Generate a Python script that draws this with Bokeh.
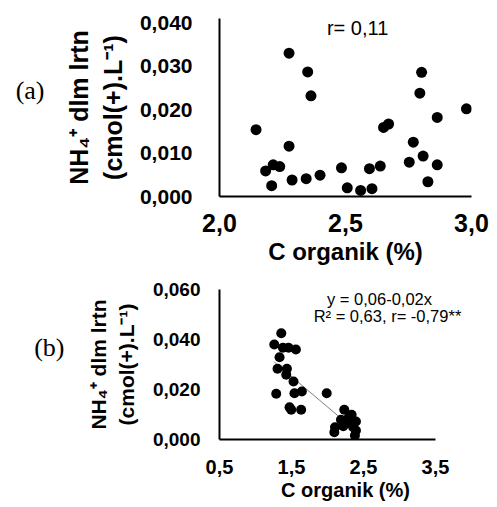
from bokeh.plotting import figure
from bokeh.models import Range1d, FixedTicker, CustomJSTickFormatter, Label, LinearAxis, Title
from bokeh.layouts import column
from bokeh.embed import file_html
from bokeh.resources import INLINE
import numpy as np

# ---- data panel (a) ----
a_x = [2.145, 2.276, 2.350, 2.363, 2.276, 2.183, 2.213, 2.239, 2.207, 2.288,
       2.344, 2.399, 2.484, 2.507, 2.560, 2.605, 2.595, 2.638, 2.651, 2.671,
       2.753, 2.769, 2.808, 2.795, 2.802, 2.864, 2.864, 2.827, 2.980]
a_y = [0.0154, 0.0330, 0.0287, 0.0232, 0.0116, 0.0059, 0.0073, 0.0069, 0.0025, 0.0038,
       0.0041, 0.0049, 0.0066, 0.0020, 0.0014, 0.0018, 0.0064, 0.0070, 0.0159, 0.0167,
       0.0079, 0.0125, 0.0093, 0.0238, 0.0286, 0.0182, 0.0073, 0.0034, 0.0202]
a_xticks = [2.0, 2.5, 3.0]
a_yticks = [0.0, 0.01, 0.02, 0.03, 0.04]

# ---- data panel (b) ----
b_x = [1.358, 1.261, 1.381, 1.459, 1.561, 1.334, 1.306, 1.436, 1.427, 1.528,
       1.288, 1.541, 1.644, 1.473, 1.496, 1.634, 1.989, 2.233, 2.335, 2.187,
       2.288, 2.395, 2.104, 2.219, 2.095, 2.357, 2.395, 2.381, 2.266]
b_y = [0.0425, 0.0380, 0.0367, 0.0367, 0.0360, 0.0329, 0.0283, 0.0283, 0.0259, 0.0232,
       0.0183, 0.0185, 0.0192, 0.0129, 0.0119, 0.0119, 0.0185, 0.0119, 0.0099, 0.0079,
       0.0085, 0.0072, 0.0049, 0.0053, 0.0029, 0.0049, 0.0036, 0.0016, 0.0065]
b_xticks = [0.5, 1.5, 2.5, 3.5]
b_yticks = [0.0, 0.02, 0.04, 0.06]

ylabel = "NH\u2084\u207a dlm lrtn\n(cmol(+).L\u207b\u00b9)"
xlabel = "C organik (%)"
FONT = "Liberation Sans"
SERIF = "Liberation Serif"

yfmt = CustomJSTickFormatter(code="return tick.toFixed(3).replace('.', ',');")
xfmt = CustomJSTickFormatter(code="return tick.toFixed(1).replace('.', ',');")


def style(p, xticks, yticks, xt_size, yt_size, yl_size, xt_stand, yt_stand, yl_stand):
    p.outline_line_color = None
    p.xgrid.visible = False
    p.ygrid.visible = False
    for ax in (p.xaxis[0], p.yaxis[0]):
        ax.axis_line_width = 2
        ax.axis_line_color = "black"
        ax.major_tick_line_color = None
        ax.minor_tick_line_color = None
        ax.major_tick_out = 0
        ax.major_tick_in = 0
        ax.minor_tick_out = 0
        ax.major_label_text_font = FONT
        ax.major_label_text_font_style = "bold"
        ax.major_label_text_color = "black"
        ax.axis_label_text_font = FONT
        ax.axis_label_text_font_style = "bold"
        ax.axis_label_text_color = "black"
    p.xaxis[0].ticker = FixedTicker(ticks=xticks)
    p.yaxis[0].ticker = FixedTicker(ticks=yticks)
    p.xaxis[0].formatter = xfmt
    p.yaxis[0].formatter = yfmt
    p.xaxis[0].major_label_text_font_size = xt_size
    p.yaxis[0].major_label_text_font_size = yt_size
    p.yaxis[0].axis_label_text_font_size = yl_size
    p.xaxis[0].major_label_standoff = xt_stand
    p.yaxis[0].major_label_standoff = yt_stand
    p.yaxis[0].axis_label_standoff = yl_stand
    p.yaxis[0].axis_label = ylabel


def panel_tag(p, text, standoff):
    ax = LinearAxis(ticker=FixedTicker(ticks=[]), axis_line_color=None,
                    major_tick_line_color=None, minor_tick_line_color=None,
                    major_tick_out=0, major_tick_in=0, minor_tick_out=0,
                    major_label_standoff=0,
                    axis_label=text, axis_label_orientation="horizontal",
                    axis_label_text_font=SERIF, axis_label_text_font_style="normal",
                    axis_label_text_font_size="26px", axis_label_text_color="black",
                    axis_label_standoff=standoff)
    p.add_layout(ax, "left")


# ---------------- panel (a) ----------------
pa = figure(width=497, height=276, output_backend="svg", toolbar_location=None,
            x_range=Range1d(2.0, 3.0), y_range=Range1d(0.0, 0.041),
            min_border_left=219, min_border_right=26,
            min_border_top=18, min_border_bottom=80)
pa.scatter(a_x, a_y, size=11, color="black", line_color=None)
style(pa, a_xticks, a_yticks, "25px", "21px", "25px", 17, 27, 10)
pa.xaxis[0].axis_label = xlabel
pa.xaxis[0].axis_label_text_font_size = "24px"
pa.xaxis[0].axis_label_standoff = 3
panel_tag(pa, "(a)\n\u00a0", 18)
pa.add_layout(Label(x=2.548, y=0.0388, text="r= 0,11", text_font=FONT,
                    text_font_size="20px", text_align="center",
                    text_baseline="middle", text_color="black"))

# ---------------- panel (b) ----------------
pb = figure(width=497, height=231, output_backend="svg", toolbar_location=None,
            x_range=Range1d(0.5, 4.0), y_range=Range1d(0.0, 0.06),
            min_border_left=219, min_border_right=26,
            min_border_top=13, min_border_bottom=68)
coef = np.polyfit(np.array(b_x), np.array(b_y), 1)
xs = np.array([min(b_x), max(b_x)])
pb.line(xs, np.polyval(coef, xs), line_color="#808080", line_width=1)
pb.scatter(b_x, b_y, size=10, color="black", line_color=None)
style(pb, b_xticks, b_yticks, "20px", "19px", "21px", 20, 19, 12)
pb.xaxis[0].bounds = (b_xticks[0], b_xticks[-1])
pb.add_layout(Title(text=xlabel, align="center", offset=-18, standoff=1,
                    text_font=FONT, text_font_style="bold", text_font_size="20px",
                    text_color="black"), "below")
panel_tag(pb, "(b)\n\u00a0", 20)
pb.add_layout(Label(x=2.722, y=0.0564, text="y = 0,06-0,02x", text_font=FONT,
                    text_font_size="16.5px", text_align="center",
                    text_baseline="middle", text_color="black"))
pb.add_layout(Label(x=2.833, y=0.0496, text="R\u00b2 = 0,63, r= -0,79**", text_font=FONT,
                    text_font_size="16.5px", text_align="center",
                    text_baseline="middle", text_color="black"))

layout = column(pa, pb)
open("out.html", "w").write(file_html(layout, INLINE))
